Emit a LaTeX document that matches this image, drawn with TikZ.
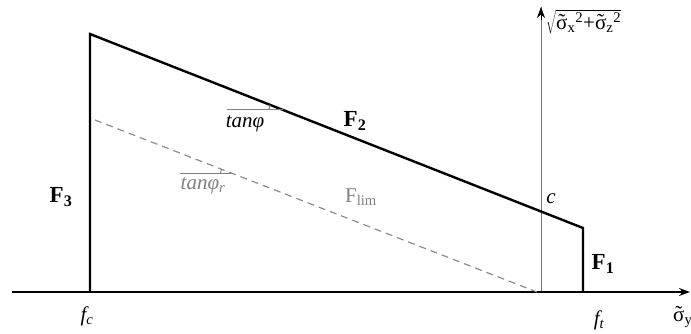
\documentclass[tikz,border=0pt]{standalone}
\usepackage{fontspec}
\setmainfont{Liberation Serif}
\usetikzlibrary{arrows.meta,calc}
\newcommand{\tsig}{\accent"02DC σ}
\begin{document}
\begin{tikzpicture}[x=1pt,y=-1pt,
  thickline/.style={line width=2.4pt,line cap=round,line join=miter},
  axisline/.style={line width=1.4pt,-{Stealth[length=11pt,width=8pt]}},
  grayline/.style={draw=black!50,line width=1pt},
  dashline/.style={draw=black!45,line width=1.2pt,dash pattern=on 7pt off 5pt},
  flabel/.style={font=\fontsize{23}{25}\selectfont\bfseries,inner sep=0pt},
  tlabel/.style={font=\fontsize{21}{23}\selectfont,inner sep=0pt},
  glabel/.style={font=\fontsize{21}{23}\selectfont,text=black!50,inner sep=0pt}]
\useasboundingbox (0,0) rectangle (691,334);
% coordinates
\coordinate (O) at (12,292);
\coordinate (X) at (690,292);
\coordinate (fc) at (90,292);
\coordinate (A) at (90,34);
\coordinate (B) at (583,228);
\coordinate (ft) at (583,292);
\coordinate (V0) at (541,292);
\coordinate (V1) at (541,7);
\coordinate (V2) at (541,20);
\coordinate (D0) at (95,120);
\coordinate (D1) at (537,292);
\coordinate (T0) at (227,110);
\coordinate (T1) at (283,110);
\coordinate (R0) at (180,173.5);
\coordinate (R1) at (232.5,173.5);
% axes
\draw[grayline,draw=black!55] (V0) -- (V1);
\draw[line width=0.8pt,-{Stealth[length=11pt,width=8pt]}] (V2) -- (V1);
\draw[axisline] (O) -- (X);
% boundary
\draw[thickline] (fc) -- (A) -- (B) -- (ft);
\draw[dashline] (D0) -- (D1);
% angle marks
\draw[grayline] (T0) -- (T1);
\draw[grayline] ($(T1)+(-14,0)$) arc[start angle=180,end angle=201.5,radius=14];
\draw[grayline] (R0) -- (R1);
\draw[grayline] ($(R1)+(-12,0)$) arc[start angle=180,end angle=201.3,radius=12];
% labels
\node[flabel] (F3) at (61,197) {F\textsubscript{3}};
\node[flabel] (F2) at (355,121) {F\textsubscript{2}};
\node[flabel] (F1) at (603,264) {F\textsubscript{1}};
\node[glabel] (Flim) at (361,197) {F\textsubscript{lim}};
\node[tlabel] (c) at (551,199) {\textit{c}};
\node[tlabel] (fcl) at (87,316) {\textit{f\textsubscript{c}}};
\node[tlabel] (ftl) at (599,320) {\textit{f\textsubscript{t}}};
\node[tlabel,anchor=west] (sy) at (673,317) {\tsig\textsubscript{y}};
\node[tlabel] (tp) at (245,124) {\textit{tanφ}};
\node[glabel] (tpr) at (203,186) {\textit{tanφ\textsubscript{r}}};
\node[tlabel,anchor=west] (sq) at (546,22) {$\sqrt{\mbox{\tsig\textsubscript{x}\textsuperscript{2}+\tsig\textsubscript{z}\textsuperscript{2}}}$};
\end{tikzpicture}
\end{document}
